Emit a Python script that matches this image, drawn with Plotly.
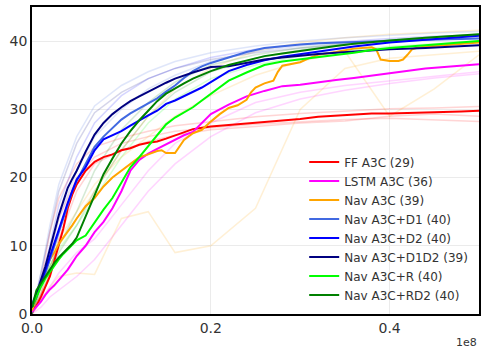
import plotly.graph_objects as go

# шаги обучения (в единицах 1e8)
X = [0, .005, .01, .015, .02, .025, .03, .035, .04, .045, .05, .06, .07, .08, .09,
     .10, .11, .12, .13, .14, .15, .16, .17, .18, .19, .20, .22, .24, .26, .28,
     .30, .32, .34, .36, .38, .40, .44, .48, .50]

ff_a3c = [0.5, 1.2, 2.5, 4, 5.5, 7.8, 10, 12.5, 15.5, 17.5, 19, 21, 22.3, 23, 23.4,
          24, 24.3, 24.8, 25.1, 25.3, 25.7, 26.2, 26.7, 27.1, 27.3, 27.5, 27.7, 27.9, 28.1, 28.3,
          28.6, 28.9, 29.1, 29.3, 29.4, 29.4, 29.5, 29.7, 29.8]
lstm_a3c = [0.3, 1, 1.8, 2.8, 3.6, 4.2, 5, 5.8, 6.5, 7.5, 8.5, 10, 12, 13.5, 15.5,
            18, 21, 22.6, 23.5, 24.2, 24.9, 25.5, 26.2, 26.7, 28, 29.3, 30.7, 31.9, 32.7, 33.4,
            33.6, 34, 34.3, 34.6, 35, 35.3, 36, 36.4, 36.6]
nav_d1 = [1.5, 3, 4.5, 6, 8, 10, 12, 14, 16, 18, 19.5, 22, 24.5, 26, 27.3,
          28.5, 29.4, 30.1, 30.9, 31.6, 32.6, 33.5, 34.6, 35.6, 36.3, 36.8, 37.6, 38.4, 39, 39.3,
          39.5, 39.7, 39.8, 39.9, 40, 40.1, 40.2, 40.3, 40.4]
nav_d2 = [1, 2.5, 4.5, 6.5, 8.5, 10.5, 12.5, 14.5, 16.3, 18, 19.7, 21.5, 24, 25.6, 26.2,
          26.8, 27.6, 28.4, 29.1, 29.8, 30.8, 31.3, 31.9, 32.5, 33.2, 34, 35.6, 36.5, 37.2, 37.7,
          38.1, 38.5, 38.9, 39.2, 39.5, 39.8, 40.2, 40.6, 40.8]
nav_d1d2 = [1, 3, 5, 7, 9.5, 12, 14.5, 16.5, 18.5, 19.8, 21, 23.8, 26.3, 28, 29.3,
            30.3, 31.2, 31.9, 32.6, 33.3, 33.9, 34.5, 35, 35.4, 35.8, 36.2, 36.3, 36.8, 37.3, 37.6,
            37.9, 38.1, 38.3, 38.5, 38.7, 38.8, 39, 39.2, 39.4]
nav_r = [1, 2.5, 4, 5.2, 6.2, 7, 8, 8.8, 9.5, 10.2, 10.8, 11.5, 13.5, 15.3, 17,
         19.3, 21.5, 23, 24.6, 26.3, 27.8, 28.8, 29.5, 30.3, 31.3, 32.3, 34.2, 35.4, 36.5, 37,
         37.3, 37.6, 38, 38.3, 38.7, 39, 39.4, 39.8, 40]
nav_rd2 = [1, 3.5, 4.5, 5.5, 6.5, 7.5, 8.3, 9, 9.7, 10.3, 11.2, 14.3, 17.5, 20.5, 22.8,
           25, 26.8, 28.4, 29.8, 31.2, 32.3, 33.1, 33.8, 34.5, 35.1, 35.6, 36.5, 37.2, 37.8, 38.2,
           38.6, 39, 39.3, 39.6, 39.9, 40.1, 40.5, 40.8, 41]

# Nav A3C со своим шагом (провал около 0.4)
X_NAV = [0, .005, .01, .015, .02, .025, .03, .035, .04, .045, .05, .06, .07, .08, .09,
         .10, .11, .12, .13, .14, .145, .15, .16, .165, .17, .18, .19, .20, .21, .22,
         .23, .24, .245, .25, .26, .27, .275, .28, .29, .30, .31, .32, .34, .36, .38,
         .385, .39, .40, .41, .415, .42, .425, .43, .44, .46, .48, .50]
nav_a3c = [0.5, 2.5, 4.5, 6.5, 8, 9, 10.3, 11.2, 12, 13, 14, 15.8, 17, 18.7, 20,
           21, 22, 23, 23.4, 23.9, 24, 23.6, 23.6, 24.5, 25.5, 26.5, 27, 28.2, 29.3, 30.2,
           30.6, 31.4, 32.5, 33.2, 33.8, 34.2, 35.5, 36.4, 36.6, 36.9, 37.5, 38, 38.4, 38.9, 39.1,
           38.8, 37.3, 37.1, 37.1, 37.3, 38, 38.8, 39, 39.2, 39.4, 39.6, 39.8]

# отдельные прогоны (бледные линии)
XF = [0, .01, .02, .03, .05, .07, .1, .13, .16, .2, .25, .3, .35, .4, .45, .5]
ff_run1 = [0, 3, 9, 14, 20, 23, 25, 26, 26.8, 27.3, 27.8, 28.2, 28.5, 28.7, 28.5, 28.2]
ff_run2 = [0, 5, 12, 17, 22, 24.5, 25.8, 26.8, 27.6, 28.2, 28.9, 29.4, 29.8, 30.1, 30.2, 30.4]
ff_run3 = [0, 2, 6, 11, 18, 22, 24, 25.3, 26.2, 27, 27.5, 28, 28.3, 29, 29.3, 29.0]
lstm_run1 = [0, 1, 2.5, 3.5, 5.5, 8, 13, 18, 22, 26, 29.5, 31.5, 32.8, 33.8, 34.6, 35.2]
lstm_run2 = [0, 2, 4, 6, 9, 11, 16, 21, 25, 28, 31, 32.5, 33.5, 34.2, 34.8, 35.5]
nav_run1 = [0, 2, 4, 5.5, 6, 5.8, 14, 15, 9, 10, 15.5, 30, 36, 37.5, 38, 38.5]
nav_run2 = [0, 4, 8, 11, 15, 19, 23, 26, 29, 32, 35, 37, 38.5, 29, 33, 38]
nav_run3 = [0, 3, 7, 10, 14, 18, 24, 29, 33, 36, 38.5, 39.8, 40.5, 41, 41.3, 41.6]
d1_run1 = [0, 6, 13, 19, 26, 30.5, 33.5, 35.5, 37, 38.3, 39.3, 40, 40.5, 40.9, 41.2, 41.4]
d1_run2 = [0, 4, 9, 14, 21, 26, 30, 33, 35, 37, 38.5, 39.3, 39.8, 40.2, 40.5, 40.8]
d2_run1 = [0, 5, 10, 16, 23, 28, 32, 34.5, 36, 37.6, 38.8, 39.5, 40, 40.4, 40.7, 40.9]
d1d2_run1 = [0, 6, 12, 18, 25, 29.5, 32.5, 34.5, 36, 37.3, 38.3, 39, 39.5, 39.9, 40.2, 40.5]
r_run1 = [0, 4, 7, 9.5, 13, 17, 23, 28, 31.5, 34.5, 36.5, 37.8, 38.6, 39.2, 39.6, 40]
rd2_run1 = [0, 4, 7, 10, 15, 21, 27, 31, 34, 36.5, 38, 39, 39.7, 40.2, 40.6, 41]
rd2_run2 = [0, 3, 6, 9, 13, 18, 24, 29, 32.5, 35.5, 37.5, 38.7, 39.5, 40, 40.4, 40.8]

faint = [
    ('#ff0000', ff_run1), ('#ff0000', ff_run2), ('#ff0000', ff_run3),
    ('#ff00ff', lstm_run1), ('#ff00ff', lstm_run2),
    ('#ffa500', nav_run1), ('#ffa500', nav_run2), ('#ffa500', nav_run3),
    ('#4169e1', d1_run1), ('#4169e1', d1_run2),
    ('#0000ff', d2_run1), ('#000080', d1d2_run1),
    ('#00ff00', r_run1), ('#008000', rd2_run1), ('#008000', rd2_run2),
]

main = [
    ('FF A3C (29)', '#ff0000', X, ff_a3c),
    ('LSTM A3C (36)', '#ff00ff', X, lstm_a3c),
    ('Nav A3C (39)', '#ffa500', X_NAV, nav_a3c),
    ('Nav A3C+D1 (40)', '#4169e1', X, nav_d1),
    ('Nav A3C+D2 (40)', '#0000ff', X, nav_d2),
    ('Nav A3C+D1D2 (39)', '#000080', X, nav_d1d2),
    ('Nav A3C+R (40)', '#00ff00', X, nav_r),
    ('Nav A3C+RD2 (40)', '#008000', X, nav_rd2),
]

fig = go.Figure()

for color, ys in faint:
    fig.add_trace(go.Scatter(x=XF, y=ys, mode='lines', showlegend=False,
                             line=dict(color=color, width=1.5), opacity=0.16,
                             hoverinfo='skip'))

for name, color, xs, ys in main:
    fig.add_trace(go.Scatter(x=xs, y=ys, mode='lines', name=name,
                             line=dict(color=color, width=2)))

fig.update_layout(
    width=485, height=355,
    margin=dict(l=32, r=6, t=7, b=41),
    paper_bgcolor='white', plot_bgcolor='white',
    font=dict(family='DejaVu Sans', color='#333333'),
    legend=dict(x=0.987, y=0.015, xanchor='right', yanchor='bottom',
                bgcolor='rgba(0,0,0,0)', font=dict(size=12)),
    annotations=[dict(text='1e8', xref='paper', yref='paper', x=1, y=0,
                      xanchor='right', yanchor='middle', yshift=-28,
                      showarrow=False, font=dict(size=11, color='#333333'))],
)
fig.update_xaxes(range=[0, 0.5], tickvals=[0, 0.2, 0.4], ticktext=['0.0', '0.2', '0.4'],
                 showline=True, mirror=True, linecolor='black', linewidth=1.5,
                 gridcolor='#ebebeb', zeroline=False, tickfont=dict(size=14),
                 automargin=False)
fig.update_yaxes(range=[0, 45], tickvals=[0, 10, 20, 30, 40],
                 showline=True, mirror=True, linecolor='black', linewidth=1.5,
                 gridcolor='#ebebeb', zeroline=False, tickfont=dict(size=14),
                 automargin=False)

# убрать стандартный отступ страницы
fig.write_html("out.html", config={'displayModeBar': False},
               post_script="document.body.style.margin='0';")
